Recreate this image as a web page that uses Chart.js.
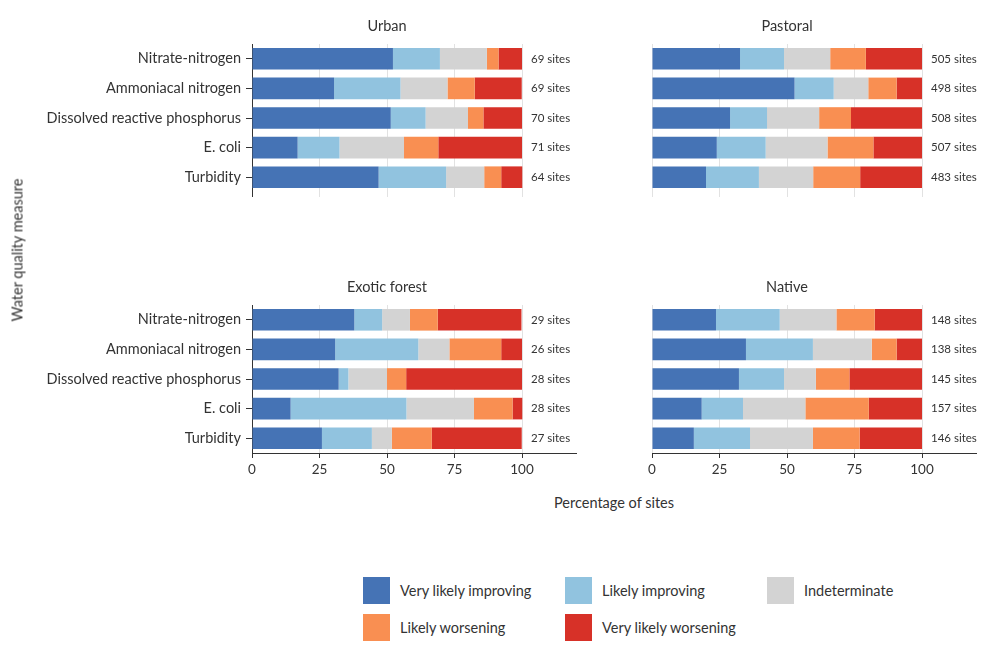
<!DOCTYPE html>
<html>
<head>
<meta charset="utf-8">
<script src="https://cdn.jsdelivr.net/npm/chart.js@4"></script>
<style>
  body { margin: 0; background: #fff; font-family: Lato, sans-serif; color: #333; }
  #wrap { position: relative; width: 1008px; height: 667px; overflow: hidden; }
  canvas { position: absolute; }
  .axis-title { position: absolute; font-size: 14.5px; color: #333; white-space: nowrap; }
  .leg { position: absolute; font-size: 14.5px; color: #333; line-height: 27px; white-space: nowrap; }
  .leg span { display: inline-block; width: 27px; height: 27px; vertical-align: top; margin-right: 10px; }
</style>
</head>
<body>
<div id="wrap">
  <canvas id="urban" width="600" height="200" style="left:0;top:0"></canvas>
  <canvas id="pastoral" width="408" height="200" style="left:600px;top:0"></canvas>
  <canvas id="exotic" width="600" height="223" style="left:0;top:260px"></canvas>
  <canvas id="native" width="408" height="223" style="left:600px;top:260px"></canvas>
  <div class="axis-title" style="left:17px;top:250px;transform:translate(-50%,-50%) rotate(-90deg)">Water quality measure</div>
  <div class="axis-title" style="left:614px;top:502px;transform:translate(-50%,-50%)">Percentage of sites</div>
  <div id="legend"></div>
</div>
<script>
const measures = ["Nitrate-nitrogen", "Ammoniacal nitrogen", "Dissolved reactive phosphorus", "E. coli", "Turbidity"];
const trendNames = ["Very likely improving", "Likely improving", "Indeterminate", "Likely worsening", "Very likely worsening"];
const trendColors = ["#4573b5", "#91c3df", "#d3d3d3", "#f98f52", "#d73128"];
const xTicks = [0, 25, 50, 75, 100];

// percentages per trend class (rows follow trendNames, columns follow measures)
const urbanSites = [69, 69, 70, 71, 64];
const urbanPct = [
  [52.2, 30.4, 51.4, 16.9, 46.9],
  [17.4, 24.6, 12.9, 15.5, 25.0],
  [17.4, 17.4, 15.7, 23.9, 14.1],
  [4.3, 10.1, 5.7, 12.7, 6.3],
  [8.7, 17.4, 14.3, 31.0, 7.8]
];

const pastoralSites = [505, 498, 508, 507, 483];
const pastoralPct = [
  [32.6, 52.8, 28.9, 24.0, 20.0],
  [16.3, 14.5, 13.7, 18.1, 19.6],
  [17.1, 12.8, 19.3, 22.9, 20.1],
  [13.2, 10.5, 11.8, 17.0, 17.4],
  [20.8, 9.4, 26.3, 18.0, 22.9]
];

const exoticSites = [29, 26, 28, 28, 27];
const exoticPct = [
  [37.9, 30.8, 32.1, 14.3, 25.9],
  [10.3, 30.8, 3.6, 42.9, 18.5],
  [10.3, 11.5, 14.3, 25.0, 7.4],
  [10.3, 19.2, 7.1, 14.3, 14.8],
  [31.0, 7.7, 42.9, 3.6, 33.3]
];

const nativeSites = [148, 138, 145, 157, 146];
const nativePct = [
  [23.7, 34.8, 32.2, 18.4, 15.5],
  [23.6, 24.8, 16.7, 15.3, 20.8],
  [21.0, 21.8, 11.8, 23.1, 23.3],
  [14.2, 9.2, 12.4, 23.5, 17.3],
  [17.5, 9.4, 26.9, 19.7, 23.1]
];

const gridGrey = "#e2e2e2";
const dark = "#333";

function panelText(title, sites) {
  return {
    id: "panelText",
    afterDraw(chart) {
      const { ctx, chartArea } = chart;
      const x = chart.scales.x, y = chart.scales.y;
      ctx.save();
      ctx.fillStyle = dark;
      ctx.textBaseline = "middle";
      ctx.textAlign = "center";
      ctx.font = "14.5px Lato";
      ctx.fillText(title, x.getPixelForValue(50), chartArea.top - 18);
      ctx.textAlign = "left";
      ctx.font = "11.5px Lato";
      sites.forEach((n, i) => {
        ctx.fillText(n + " sites", x.getPixelForValue(100) + 9, y.getPixelForValue(i));
      });
      ctx.restore();
    }
  };
}

function makePanel(id, title, pct, sites, isLeft, isBottom) {
  const canvas = document.getElementById(id);
  const yWidth = isLeft ? 252 : 52;
  const rightPad = canvas.width - yWidth - 324;
  const zeroDark = ctx => isLeft && ctx.tick && ctx.tick.value === 0;

  new Chart(canvas, {
    type: "bar",
    data: {
      labels: measures,
      datasets: trendNames.map((name, k) => ({
        label: name,
        data: pct[k],
        backgroundColor: trendColors[k],
        barPercentage: 0.73,
        categoryPercentage: 1
      }))
    },
    options: {
      indexAxis: "y",
      responsive: false,
      animation: false,
      layout: { padding: { top: isBottom ? 45 : 44, right: rightPad, bottom: isBottom ? 0 : 3, left: 0 } },
      plugins: { legend: { display: false }, tooltip: { enabled: false } },
      scales: {
        x: {
          stacked: true,
          min: 0,
          max: 120,
          afterBuildTicks: s => { s.ticks = xTicks.map(v => ({ value: v })); },
          ticks: { display: isBottom, color: dark, font: { size: 13.5 }, padding: 4, maxRotation: 0 },
          grid: {
            color: ctx => zeroDark(ctx) ? dark : gridGrey,
            tickColor: ctx => (isBottom || zeroDark(ctx)) ? dark : gridGrey,
            tickLength: 5
          },
          border: { display: isBottom, color: dark },
          afterFit: s => { s.height = isBottom ? 30 : 5; }
        },
        y: {
          stacked: true,
          ticks: { display: isLeft, color: dark, font: { size: 14.5 }, padding: 5 },
          grid: {
            drawOnChartArea: false,
            offset: false,
            color: "rgba(0,0,0,0)",
            tickColor: isLeft ? dark : "rgba(0,0,0,0)",
            tickLength: 6
          },
          border: { display: isLeft, color: dark },
          afterFit: s => {
            s.width = yWidth;
            s.paddingTop = 0;
            s.paddingBottom = 0;
          }
        }
      }
    },
    plugins: [panelText(title, sites)]
  });
}

function buildLegend() {
  const spots = [[363, 577], [565, 577], [767, 577], [363, 614], [565, 614]];
  const box = document.getElementById("legend");
  trendNames.forEach((name, k) => {
    const d = document.createElement("div");
    d.className = "leg";
    d.style.left = spots[k][0] + "px";
    d.style.top = spots[k][1] + "px";
    const sw = document.createElement("span");
    sw.style.background = trendColors[k];
    d.appendChild(sw);
    d.appendChild(document.createTextNode(name));
    box.appendChild(d);
  });
}

function draw() {
  Chart.defaults.font.family = "Lato";
  Chart.defaults.color = dark;
  makePanel("urban", "Urban", urbanPct, urbanSites, true, false);
  makePanel("pastoral", "Pastoral", pastoralPct, pastoralSites, false, false);
  makePanel("exotic", "Exotic forest", exoticPct, exoticSites, true, true);
  makePanel("native", "Native", nativePct, nativeSites, false, true);
  buildLegend();
}

window.onload = () => {
  document.fonts.load("13px Lato").then(draw, draw);
};
</script>
</body>
</html>
